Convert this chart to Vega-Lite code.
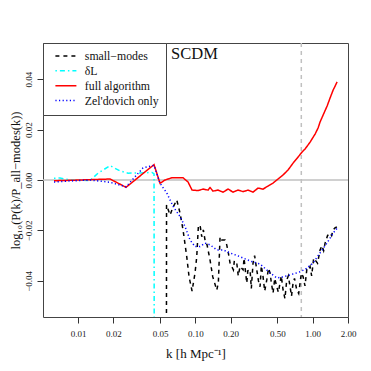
{
"$schema":"https://vega.github.io/schema/vega-lite/v6.json",
"width":305,"height":274,"autosize":"none",
"padding":{"left":43,"top":43,"right":23,"bottom":54},
"background":"white",
"config":{"view":{"stroke":"#444","strokeWidth":1},"font":"Liberation Serif",
"legend":{"orient":"top-left","offset":0,"padding":7,"strokeColor":"#444","fillColor":"white","symbolType":"M-3,0H3","symbolSize":49,"symbolStrokeWidth":1.5,"symbolOffset":10,"labelFont":"Liberation Serif","labelFontSize":11.8,"labelColor":"#111","labelOffset":13,"rowPadding":1.9}},
"layer":[
{"data":{"values":[{}]},"mark":{"type":"rule","color":"#c0c0c0","strokeWidth":1.5},"encoding":{"y":{"datum":0}}},
{"data":{"values":[{}]},"mark":{"type":"rule","color":"#c0c0c0","strokeWidth":1.5,"strokeDash":[4,4]},"encoding":{"x":{"datum":0.8}}},
{"data":{"values":[
{"s":"small−modes","k":0.0562,"v":-0.3},
{"s":"small−modes","k":0.05682,"v":-0.0099},
{"s":"small−modes","k":0.06085,"v":-0.0139},
{"s":"small−modes","k":0.06415,"v":-0.0111},
{"s":"small−modes","k":0.06942,"v":-0.0079},
{"s":"small−modes","k":0.07405,"v":-0.0131},
{"s":"small−modes","k":0.07855,"v":-0.0198},
{"s":"small−modes","k":0.08447,"v":-0.0304},
{"s":"small−modes","k":0.08837,"v":-0.0383},
{"s":"small−modes","k":0.09373,"v":-0.044},
{"s":"small−modes","k":0.09941,"v":-0.0368},
{"s":"small−modes","k":0.10277,"v":-0.0304},
{"s":"small−modes","k":0.10607,"v":-0.0185},
{"s":"small−modes","k":0.10965,"v":-0.0178},
{"s":"small−modes","k":0.11339,"v":-0.0225},
{"s":"small−modes","k":0.11699,"v":-0.0198},
{"s":"small−modes","k":0.12095,"v":-0.0238},
{"s":"small−modes","k":0.12581,"v":-0.0257},
{"s":"small−modes","k":0.13342,"v":-0.0317},
{"s":"small−modes","k":0.14067,"v":-0.0383},
{"s":"small−modes","k":0.15217,"v":-0.0436},
{"s":"small−modes","k":0.15706,"v":-0.0408},
{"s":"small−modes","k":0.16237,"v":-0.0225},
{"s":"small−modes","k":0.16796,"v":-0.0238},
{"s":"small−modes","k":0.17911,"v":-0.0238},
{"s":"small−modes","k":0.18518,"v":-0.0257},
{"s":"small−modes","k":0.19107,"v":-0.0289},
{"s":"small−modes","k":0.19759,"v":-0.0329},
{"s":"small−modes","k":0.21086,"v":-0.0356},
{"s":"small−modes","k":0.215,"v":-0.032},
{"s":"small−modes","k":0.22542,"v":-0.0329},
{"s":"small−modes","k":0.232,"v":-0.038},
{"s":"small−modes","k":0.24044,"v":-0.0343},
{"s":"small−modes","k":0.25501,"v":-0.0356},
{"s":"small−modes","k":0.26,"v":-0.031},
{"s":"small−modes","k":0.27425,"v":-0.0408},
{"s":"small−modes","k":0.28,"v":-0.036},
{"s":"small−modes","k":0.29256,"v":-0.0356},
{"s":"small−modes","k":0.30,"v":-0.043},
{"s":"small−modes","k":0.3103,"v":-0.0329},
{"s":"small−modes","k":0.32,"v":-0.030},
{"s":"small−modes","k":0.33378,"v":-0.0356},
{"s":"small−modes","k":0.345,"v":-0.040},
{"s":"small−modes","k":0.35604,"v":-0.0423},
{"s":"small−modes","k":0.365,"v":-0.034},
{"s":"small−modes","k":0.3776,"v":-0.0383},
{"s":"small−modes","k":0.39,"v":-0.044},
{"s":"small−modes","k":0.40622,"v":-0.0396},
{"s":"small−modes","k":0.42,"v":-0.035},
{"s":"small−modes","k":0.43327,"v":-0.0368},
{"s":"small−modes","k":0.445,"v":-0.041},
{"s":"small−modes","k":0.45962,"v":-0.0448},
{"s":"small−modes","k":0.475,"v":-0.039},
{"s":"small−modes","k":0.49424,"v":-0.0423},
{"s":"small−modes","k":0.51,"v":-0.0445},
{"s":"small−modes","k":0.52724,"v":-0.0408},
{"s":"small−modes","k":0.54,"v":-0.038},
{"s":"small−modes","k":0.55938,"v":-0.0436},
{"s":"small−modes","k":0.58,"v":-0.047},
{"s":"small−modes","k":0.60117,"v":-0.0396},
{"s":"small−modes","k":0.62,"v":-0.038},
{"s":"small−modes","k":0.64182,"v":-0.0423},
{"s":"small−modes","k":0.66,"v":-0.046},
{"s":"small−modes","k":0.68079,"v":-0.0408},
{"s":"small−modes","k":0.70,"v":-0.039},
{"s":"small−modes","k":0.73177,"v":-0.0436},
{"s":"small−modes","k":0.76,"v":-0.045},
{"s":"small−modes","k":0.781,"v":-0.0408},
{"s":"small−modes","k":0.80,"v":-0.037},
{"s":"small−modes","k":0.8283,"v":-0.0383},
{"s":"small−modes","k":0.86,"v":-0.042},
{"s":"small−modes","k":0.89054,"v":-0.0356},
{"s":"small−modes","k":0.92,"v":-0.036},
{"s":"small−modes","k":0.9502,"v":-0.0343},
{"s":"small−modes","k":0.98,"v":-0.038},
{"s":"small−modes","k":1.02,"v":-0.031},
{"s":"small−modes","k":1.0483,"v":-0.0317},
{"s":"small−modes","k":1.1,"v":-0.033},
{"s":"small−modes","k":1.1563,"v":-0.0277},
{"s":"small−modes","k":1.2,"v":-0.026},
{"s":"small−modes","k":1.24,"v":-0.028},
{"s":"small−modes","k":1.2757,"v":-0.025},
{"s":"small−modes","k":1.34,"v":-0.022},
{"s":"small−modes","k":1.407,"v":-0.021},
{"s":"small−modes","k":1.45,"v":-0.022},
{"s":"small−modes","k":1.4925,"v":-0.0198},
{"s":"small−modes","k":1.55,"v":-0.019},
{"s":"small−modes","k":1.6144,"v":-0.0185},
{"s":"δL","k":0.00624,"v":0.0007},
{"s":"δL","k":0.00702,"v":0.0008},
{"s":"δL","k":0.00855,"v":0.0},
{"s":"δL","k":0.01266,"v":-0.0002},
{"s":"δL","k":0.01481,"v":0.0027},
{"s":"δL","k":0.01875,"v":0.0057},
{"s":"δL","k":0.0228,"v":0.0036},
{"s":"δL","k":0.02669,"v":0.0027},
{"s":"δL","k":0.03378,"v":0.0028},
{"s":"δL","k":0.04275,"v":0.003},
{"s":"δL","k":0.04445,"v":0.0024},
{"s":"δL","k":0.0452,"v":-0.3},
{"s":"full algorithm","k":0.00624,"v":-0.0003},
{"s":"full algorithm","k":0.0104,"v":0.0},
{"s":"full algorithm","k":0.01875,"v":0.0004},
{"s":"full algorithm","k":0.02566,"v":-0.0029},
{"s":"full algorithm","k":0.04445,"v":0.0061},
{"s":"full algorithm","k":0.05,"v":-0.0013},
{"s":"full algorithm","k":0.05515,"v":0.0},
{"s":"full algorithm","k":0.06328,"v":0.0009},
{"s":"full algorithm","k":0.07855,"v":0.0009},
{"s":"full algorithm","k":0.08665,"v":-0.0008},
{"s":"full algorithm","k":0.09373,"v":-0.004},
{"s":"full algorithm","k":0.10544,"v":-0.0042},
{"s":"full algorithm","k":0.1163,"v":-0.0036},
{"s":"full algorithm","k":0.1283,"v":-0.004},
{"s":"full algorithm","k":0.13342,"v":-0.003},
{"s":"full algorithm","k":0.14152,"v":-0.0044},
{"s":"full algorithm","k":0.15611,"v":-0.004},
{"s":"full algorithm","k":0.1722,"v":-0.0048},
{"s":"full algorithm","k":0.19,"v":-0.0036},
{"s":"full algorithm","k":0.2096,"v":-0.0048},
{"s":"full algorithm","k":0.23121,"v":-0.004},
{"s":"full algorithm","k":0.25501,"v":-0.0046},
{"s":"full algorithm","k":0.28129,"v":-0.004},
{"s":"full algorithm","k":0.3103,"v":-0.0048},
{"s":"full algorithm","k":0.34222,"v":-0.0032},
{"s":"full algorithm","k":0.3776,"v":-0.0036},
{"s":"full algorithm","k":0.41664,"v":-0.0024},
{"s":"full algorithm","k":0.45962,"v":-0.0012},
{"s":"full algorithm","k":0.507,"v":0.0004},
{"s":"full algorithm","k":0.55938,"v":0.002},
{"s":"full algorithm","k":0.61717,"v":0.004},
{"s":"full algorithm","k":0.68079,"v":0.0067},
{"s":"full algorithm","k":0.75086,"v":0.0091},
{"s":"full algorithm","k":0.8122,"v":0.0111},
{"s":"full algorithm","k":0.8615,"v":0.0123},
{"s":"full algorithm","k":0.9502,"v":0.015},
{"s":"full algorithm","k":1.0483,"v":0.0182},
{"s":"full algorithm","k":1.1117,"v":0.0206},
{"s":"full algorithm","k":1.1563,"v":0.023},
{"s":"full algorithm","k":1.2266,"v":0.0257},
{"s":"full algorithm","k":1.3268,"v":0.0293},
{"s":"full algorithm","k":1.407,"v":0.0325},
{"s":"full algorithm","k":1.4925,"v":0.0356},
{"s":"full algorithm","k":1.5524,"v":0.0372},
{"s":"full algorithm","k":1.6144,"v":0.0389},
{"s":"Zel'dovich only","k":0.00624,"v":-0.0008},
{"s":"Zel'dovich only","k":0.00855,"v":-0.0004},
{"s":"Zel'dovich only","k":0.01266,"v":0.0},
{"s":"Zel'dovich only","k":0.01875,"v":-0.0009},
{"s":"Zel'dovich only","k":0.02566,"v":-0.0027},
{"s":"Zel'dovich only","k":0.03581,"v":0.0048},
{"s":"Zel'dovich only","k":0.04445,"v":0.0058},
{"s":"Zel'dovich only","k":0.05,"v":-0.0013},
{"s":"Zel'dovich only","k":0.05335,"v":-0.0032},
{"s":"Zel'dovich only","k":0.05707,"v":-0.0051},
{"s":"Zel'dovich only","k":0.06085,"v":-0.0079},
{"s":"Zel'dovich only","k":0.06491,"v":-0.0106},
{"s":"Zel'dovich only","k":0.07405,"v":-0.0145},
{"s":"Zel'dovich only","k":0.0817,"v":-0.0185},
{"s":"Zel'dovich only","k":0.09012,"v":-0.0238},
{"s":"Zel'dovich only","k":0.09941,"v":-0.0264},
{"s":"Zel'dovich only","k":0.10965,"v":-0.0264},
{"s":"Zel'dovich only","k":0.12095,"v":-0.025},
{"s":"Zel'dovich only","k":0.13342,"v":-0.0257},
{"s":"Zel'dovich only","k":0.15217,"v":-0.0277},
{"s":"Zel'dovich only","k":0.1722,"v":-0.0277},
{"s":"Zel'dovich only","k":0.19759,"v":-0.0289},
{"s":"Zel'dovich only","k":0.24044,"v":-0.0304},
{"s":"Zel'dovich only","k":0.29256,"v":-0.0321},
{"s":"Zel'dovich only","k":0.35604,"v":-0.0333},
{"s":"Zel'dovich only","k":0.43327,"v":-0.0368},
{"s":"Zel'dovich only","k":0.49424,"v":-0.0388},
{"s":"Zel'dovich only","k":0.55938,"v":-0.0384},
{"s":"Zel'dovich only","k":0.64182,"v":-0.0376},
{"s":"Zel'dovich only","k":0.781,"v":-0.0364},
{"s":"Zel'dovich only","k":0.89054,"v":-0.035},
{"s":"Zel'dovich only","k":1.0078,"v":-0.0329},
{"s":"Zel'dovich only","k":1.1563,"v":-0.0289},
{"s":"Zel'dovich only","k":1.3189,"v":-0.0251},
{"s":"Zel'dovich only","k":1.4925,"v":-0.0211},
{"s":"Zel'dovich only","k":1.6144,"v":-0.0191}
]},
"mark":{"type":"line","clip":true,"strokeWidth":1.5},
"encoding":{
"x":{"field":"k","type":"quantitative","scale":{"type":"log","domain":[0.00503,2],"nice":false},
 "axis":{"values":[0.01,0.02,0.05,0.1,0.2,0.5,1,2],"format":".2f","grid":false,"domain":false,"tickColor":"#333","tickSize":6,"labelFont":"Liberation Serif","labelFontSize":9,"labelColor":"#222","labelBaseline":"middle","labelPadding":10,"labelFlush":false,"labelOverlap":false,
 "title":"k  [h Mpc⁻¹]","titleFont":"Liberation Serif","titleFontSize":13,"titleFontWeight":"normal","titleColor":"#111","titleY":36,"titleBaseline":"middle"}},
"y":{"field":"v","type":"quantitative","scale":{"domain":[-0.0543,0.0543],"nice":false,"zero":false},
 "axis":{"values":[-0.04,-0.02,0,0.02,0.04],"format":".2f","grid":false,"domain":false,"tickColor":"#333","tickSize":6,"labelAngle":-90,"labelAlign":"center","labelBaseline":"middle","labelPadding":9,"labelFont":"Liberation Serif","labelFontSize":9,"labelColor":"#222",
 "title":"log₁₀(P(k)/P_all−modes(k))","titleFont":"Liberation Serif","titleFontSize":12.5,"titleFontWeight":"normal","titleColor":"#111","titleX":-28,"titleY":137,"titleAngle":-90,"titleBaseline":"middle","titleAlign":"center"}},
"color":{"field":"s","type":"nominal","scale":{"domain":["small−modes","δL","full algorithm","Zel'dovich only"],"range":["#000000","#00FFFF","#FF0000","#0000FF"]},"legend":{"title":null}},
"strokeDash":{"field":"s","type":"nominal","scale":{"domain":["small−modes","δL","full algorithm","Zel'dovich only"],"range":[[4,4],[1.5,3,5,3],[1,0],[1.2,2.4]]},"legend":{"title":null}}
}},
{"data":{"values":[{}]},"mark":{"type":"text","text":"SCDM","align":"left","baseline":"alphabetic","font":"Liberation Serif","fontSize":16.5,"color":"#111"},"encoding":{"x":{"datum":0.0621},"y":{"datum":0.0479}}}
]
}
